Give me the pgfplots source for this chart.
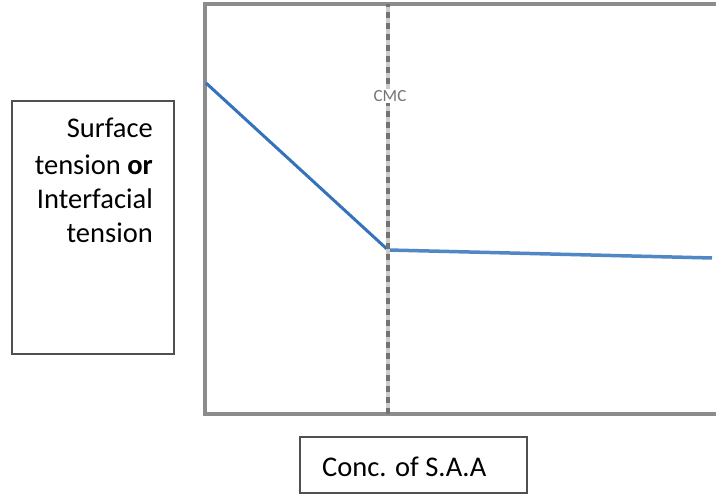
\documentclass[border=0pt]{standalone}
\usepackage{pgfplots}
\pgfplotsset{compat=1.18}
\usepackage{fontspec}
\setmainfont{Carlito}
\definecolor{linblue}{RGB}{52,114,188}
\definecolor{axgray}{RGB}{140,140,140}
\definecolor{boxgray}{RGB}{80,80,80}
\begin{document}
\begin{tikzpicture}[x=1pt,y=1pt]
\useasboundingbox (0,0) rectangle (716,494);
\fill[white] (0,0) rectangle (716,494);
\begin{axis}[
  at={(205pt,80pt)}, anchor=origin,
  scale only axis, width=520pt, height=410pt,
  xmin=0, xmax=520, ymin=0, ymax=410,
  xtick=\empty, ytick=\empty,
  axis line style={axgray, line width=3.5pt},
  clip=false,
]
\addplot[linblue, line width=3pt] coordinates {(1,331) (183,164)};
\addplot[linblue!85!white, line width=3.5pt] coordinates {(183,164) (507,156)};
\draw[gray!40, line width=4pt] (axis cs:183,0) -- (axis cs:183,410);
\draw[gray!90!black, line width=4pt, dash pattern=on 6pt off 5pt] (axis cs:183,0) -- (axis cs:183,410);
\node[fill=white, inner sep=1pt, text=gray!90!black, font=\fontsize{17}{19}\selectfont] at (axis cs:185,318) {CMC};
\end{axis}
\draw[boxgray, line width=2pt] (12,140) rectangle (174,393);
\begin{scope}[font=\fontsize{28.5}{34}\selectfont]
\node[anchor=base east, inner sep=0pt] at (153,356) {Surface};
\node[anchor=base east, inner sep=0pt] at (153,319) {tension \textbf{or}};
\node[anchor=base east, inner sep=0pt] at (153,285) {Interfacial};
\node[anchor=base east, inner sep=0pt] at (153,251) {tension};
\end{scope}
\draw[boxgray, line width=2pt] (300,1) rectangle (527,57);
\node[anchor=base west, inner sep=0pt, font=\fontsize{28.5}{34}\selectfont] at (322,17) {Conc. of S.A.A};
\end{tikzpicture}
\end{document}
